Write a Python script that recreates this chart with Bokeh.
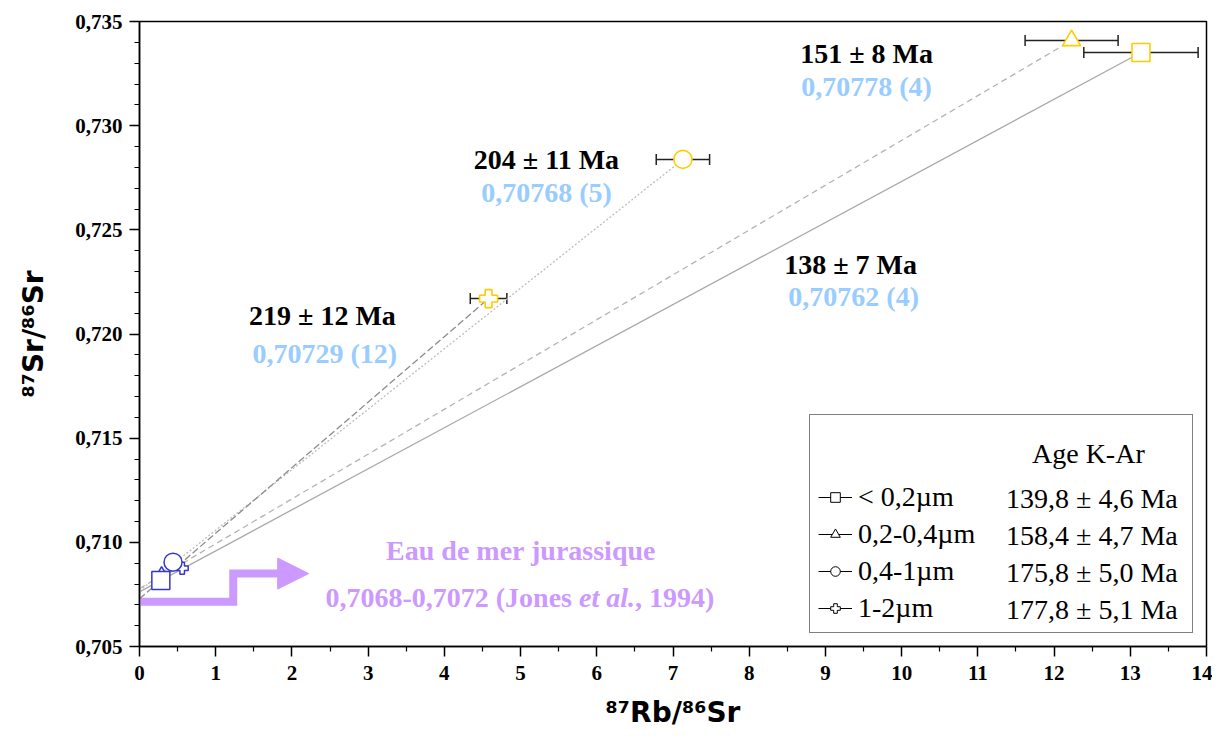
from bokeh.plotting import figure
from bokeh.models import (Range1d, FixedTicker, CustomJSTickFormatter, Whisker, ColumnDataSource,
                          Legend, LegendItem, Label, LabelSet, Arrow, NormalHead, TeeHead)
from bokeh.core.properties import value
from bokeh.embed import file_html
from bokeh.resources import INLINE

# ---------------- data ----------------
fractions = ["< 0,2µm", "0,2-0,4µm", "0,4-1µm", "1-2µm"]
markers = ["square", "triangle", "circle", "plus"]
kar_ages = ["139,8 ± 4,6 Ma", "158,4 ± 4,7 Ma", "175,8 ± 5,0 Ma", "177,8 ± 5,1 Ma"]

# low points (blue)
low_rb = [0.28, 0.29, 0.44, 0.56]
low_sr = [0.70817, 0.70850, 0.70905, 0.70876]
# high points (yellow) with 87Rb/86Sr error
high_rb = [13.14, 12.23, 7.13, 4.58]
high_sr = [0.73351, 0.73409, 0.72838, 0.72170]
high_rb_err = [0.75, 0.61, 0.35, 0.24]

# isochrons
iso_ages = ["138 ± 7 Ma", "151 ± 8 Ma", "204 ± 11 Ma", "219 ± 12 Ma"]
iso_initial = [0.70762, 0.70778, 0.70768, 0.70729]
iso_initial_labels = ["0,70762 (4)", "0,70778 (4)", "0,70768 (5)", "0,70729 (12)"]

# Jurassic seawater
seawater_step_x = [-0.2, 1.23, 1.23, 1.86]
seawater_step_y = [0.70715, 0.70715, 0.70850, 0.70850]

x_ticks = list(range(0, 15))
y_ticks = [0.705, 0.710, 0.715, 0.720, 0.725, 0.730, 0.735]

# ---------------- layout / style ----------------
age_label_x = [9.33, 9.54, 5.34, 2.40]
age_label_y = [0.72334, 0.73346, 0.72838, 0.72089]
init_label_x = [9.37, 9.54, 5.34, 2.43]
init_label_y = [0.72180, 0.73188, 0.72679, 0.71906]
line_dashes = ["solid", "6 4", "2 2", "7 3"]
line_colors = ["#A8A8A8", "#B4B4B4", "#BDBDBD", "#8C8C8C"]
low_sizes = [18, 12, 18, 12]

BLUE = "#3636C8"
YELLOW = "#FFCC00"
LIGHTBLUE = "#99CCFF"
PURPLE = "#CC99FF"
SERIF = "Liberation Serif"
FS = "28px"

p = figure(width=1212, height=734, x_range=Range1d(0, 14), y_range=Range1d(0.705, 0.735),
           output_backend="svg", toolbar_location=None,
           min_border_left=139, min_border_right=6, min_border_top=21, min_border_bottom=88)
p.xgrid.visible = False
p.ygrid.visible = False
p.outline_line_color = "black"
p.outline_line_width = 1.5

p.xaxis.ticker = FixedTicker(ticks=x_ticks, minor_ticks=[t + 0.5 for t in x_ticks[:-1]])
p.yaxis.ticker = FixedTicker(ticks=y_ticks, minor_ticks=[round(0.705 + 0.001 * i, 3) for i in range(31)])
p.yaxis.formatter = CustomJSTickFormatter(code="return tick.toFixed(3).replace('.', ',');")

for ax in (p.xaxis[0], p.yaxis[0]):
    ax.axis_line_width = 1.5
    ax.axis_line_color = "black"
    ax.major_tick_line_width = 1.5
    ax.minor_tick_line_width = 1.2
    ax.major_tick_line_color = "black"
    ax.minor_tick_line_color = "black"
    ax.major_tick_in = 0
    ax.major_tick_out = 10
    ax.minor_tick_in = 0
    ax.minor_tick_out = 5
    ax.major_label_text_font = SERIF
    ax.major_label_text_font_style = "bold"
    ax.major_label_text_font_size = "21px"
    ax.major_label_text_color = "black"
    ax.axis_label_text_font = "DejaVu Sans"
    ax.axis_label_text_font_style = "bold"
    ax.axis_label_text_font_size = "28px"
    ax.axis_label_text_color = "black"

p.xaxis.axis_label = "⁸⁷Rb/⁸⁶Sr"
p.yaxis.axis_label = "⁸⁷Sr/⁸⁶Sr"
p.xaxis.major_label_standoff = 9
p.yaxis.major_label_standoff = 7
p.xaxis.axis_label_standoff = 13
p.yaxis.axis_label_standoff = 22

# seawater arrow
p.line(x=seawater_step_x, y=seawater_step_y, line_color=PURPLE, line_width=8, line_join="miter")
p.add_layout(Arrow(end=NormalHead(size=31, fill_color=PURPLE, line_color=PURPLE, line_width=1),
                   x_start=seawater_step_x[-1] - 0.05, y_start=seawater_step_y[-1],
                   x_end=seawater_step_x[-1] + 0.36, y_end=seawater_step_y[-1],
                   line_alpha=0))

# isochron lines
for i in range(4):
    p.line(x=[0, high_rb[i]], y=[iso_initial[i], high_sr[i]], line_color=line_colors[i],
           line_width=1.3, line_dash=line_dashes[i])

# error bars
err_src = ColumnDataSource(dict(y=high_sr, lo=[r - e for r, e in zip(high_rb, high_rb_err)],
                                hi=[r + e for r, e in zip(high_rb, high_rb_err)]))
p.add_layout(Whisker(base="y", lower="lo", upper="hi", dimension="width", source=err_src,
                     line_color="#222222", line_width=1.5, level="underlay",
                     upper_head=TeeHead(size=11, line_color="#222222", line_width=1.5),
                     lower_head=TeeHead(size=11, line_color="#222222", line_width=1.5)))

# points (draw order: plus, triangle, circle, square)
for i in [3, 1, 2, 0]:
    p.scatter(x=[low_rb[i]], y=[low_sr[i]], marker=markers[i], size=low_sizes[i],
              fill_color="white", line_color=BLUE, line_width=1.5)
    p.scatter(x=[high_rb[i]], y=[high_sr[i]], marker=markers[i], size=18,
              fill_color="white", line_color=YELLOW, line_width=1.6)

# isochron labels
p.text(x=age_label_x, y=age_label_y, text=iso_ages, text_font=value(SERIF), text_font_style="bold",
       text_font_size=FS, text_align="center", text_baseline="middle", text_color="black")
p.text(x=init_label_x, y=init_label_y, text=iso_initial_labels, text_font=value(SERIF),
       text_font_style="bold", text_font_size=FS, text_align="center", text_baseline="middle",
       text_color=LIGHTBLUE)

# seawater labels
p.text(x=[5.006], y=[0.70961], text=["Eau de mer jurassique"], text_font=value(SERIF),
       text_font_style="bold", text_font_size=FS, text_align="center", text_baseline="middle",
       text_color=PURPLE)
p.text(x=[2.44], y=[0.70735], text=["0,7068-0,7072 (Jones"], text_font=value(SERIF),
       text_font_style="bold", text_font_size=FS, text_align="left", text_baseline="middle",
       text_color=PURPLE)
p.text(x=[5.767], y=[0.70735], text=["et al."], text_font=value(SERIF),
       text_font_style="bold italic", text_font_size=FS, text_align="left", text_baseline="middle",
       text_color=PURPLE)
p.text(x=[6.50], y=[0.70735], text=[", 1994)"], text_font=value(SERIF),
       text_font_style="bold", text_font_size=FS, text_align="left", text_baseline="middle",
       text_color=PURPLE)

# legend (black sample glyphs; NaN data so nothing is drawn in the plot)
nan = float("nan")
items = []
for m, lab in zip(markers, fractions):
    r_line = p.line(x=[nan, nan], y=[nan, nan], line_color="black", line_width=1)
    r_mark = p.scatter(x=[nan], y=[nan], marker=m, size=9, fill_color="white", line_color="black",
                       line_width=1)
    items.append(LegendItem(label=lab, renderers=[r_line, r_mark]))
legend = Legend(items=items, location="bottom_right", title="Age K-Ar", title_text_alpha=0,
                title_text_font=SERIF, title_text_font_size="26px", title_standoff=28,
                label_text_font=SERIF, label_text_font_size=FS, label_text_color="black",
                glyph_width=34, glyph_height=24, label_height=32, label_width=326, label_standoff=6,
                spacing=5, padding=8, margin=13, border_line_color="black", border_line_width=1.5,
                background_fill_color="white", background_fill_alpha=0)
p.add_layout(legend)

p.add_layout(Label(x=12.45, y=0.71426, text="Age K-Ar", text_font=SERIF, text_font_size=FS,
                   text_align="center", text_baseline="middle", text_color="black"))
age_src = ColumnDataSource(dict(x=[11.37] * 4, y=[0.71210, 0.71032, 0.70853, 0.70676], t=kar_ages))
p.add_layout(LabelSet(x="x", y="y", text="t", source=age_src, text_font=SERIF, text_font_size=FS,
                      text_align="left", text_baseline="middle", text_color="black"))

open("out.html", "w").write(file_html(p, INLINE))
